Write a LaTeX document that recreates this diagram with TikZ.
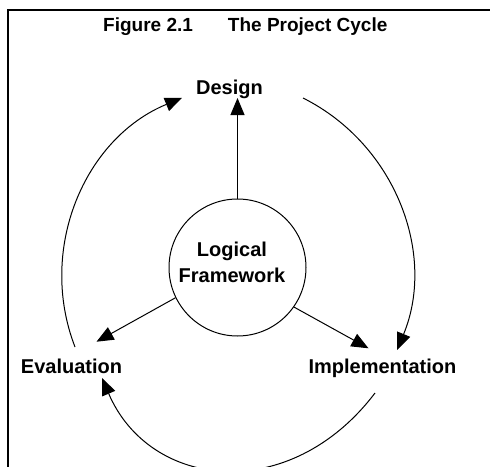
\documentclass[tikz,border=0pt]{standalone}
\usepackage{fontspec}
\setmainfont{Liberation Sans}
\usetikzlibrary{arrows.meta}
\begin{document}
\begin{tikzpicture}[x=1pt,y=-1pt,
  lbl/.style={font=\bfseries\fontsize{20}{24}\selectfont, inner sep=0pt},
  ctr/.style={font=\bfseries\fontsize{20}{26.7}\selectfont, inner sep=0pt, align=center},
  ttl/.style={font=\bfseries\fontsize{19}{23}\selectfont, inner sep=0pt},
  link/.style={line width=1pt, -{Triangle[length=17pt,width=14pt]}},
  frameline/.style={line width=2pt, line join=miter}]
\useasboundingbox (0,0) rectangle (490,466);

% open frame: top and left edges
\draw[frameline] (8.3,470) -- (8.3,9.7) -- (495,9.7);

% title
\node[ttl, anchor=base west] (title) at (103,31.7) {Figure 2.1\hspace{35pt}The Project Cycle};

% stage labels
\node[lbl, anchor=base] (dsg) at (229.5,94) {Design};
\node[lbl, anchor=base] (ev) at (71.5,373) {Evaluation};
\node[lbl, anchor=base] (im) at (382.5,373.3) {Implementation};

% central circle
\node[draw, circle, line width=1pt, minimum size=137pt, inner sep=0pt] (lf) at (237.5,267.5) {};
\node[ctr] (lft) at (232,262.2) {Logical\\Framework};

% arrow end points
\coordinate (dsgtip) at (237.5,98);
\coordinate (evtip) at (96.5,341.7);
\coordinate (imtip) at (368.5,348.3);
\coordinate (evtop) at (75,347);
\coordinate (dsgright) at (303,98);
\coordinate (imbot) at (375,393);
\coordinate (evbot) at (102,378);

% spokes from the framework
\draw[link] (lf.north) -- (dsgtip);
\draw[link] (lf.206) -- (evtip);
\draw[link] (lf.-35) -- (imtip);

% the cycle
\draw[link] (evtop) arc[start angle=158.9, end angle=247.6, radius=193.9];
\draw[link] (dsgright) arc[start angle=-63.4, end angle=22.4, radius=197.5];
\draw[link] (imbot) .. controls (290,505) and (150,490) .. (evbot);
\end{tikzpicture}
\end{document}
